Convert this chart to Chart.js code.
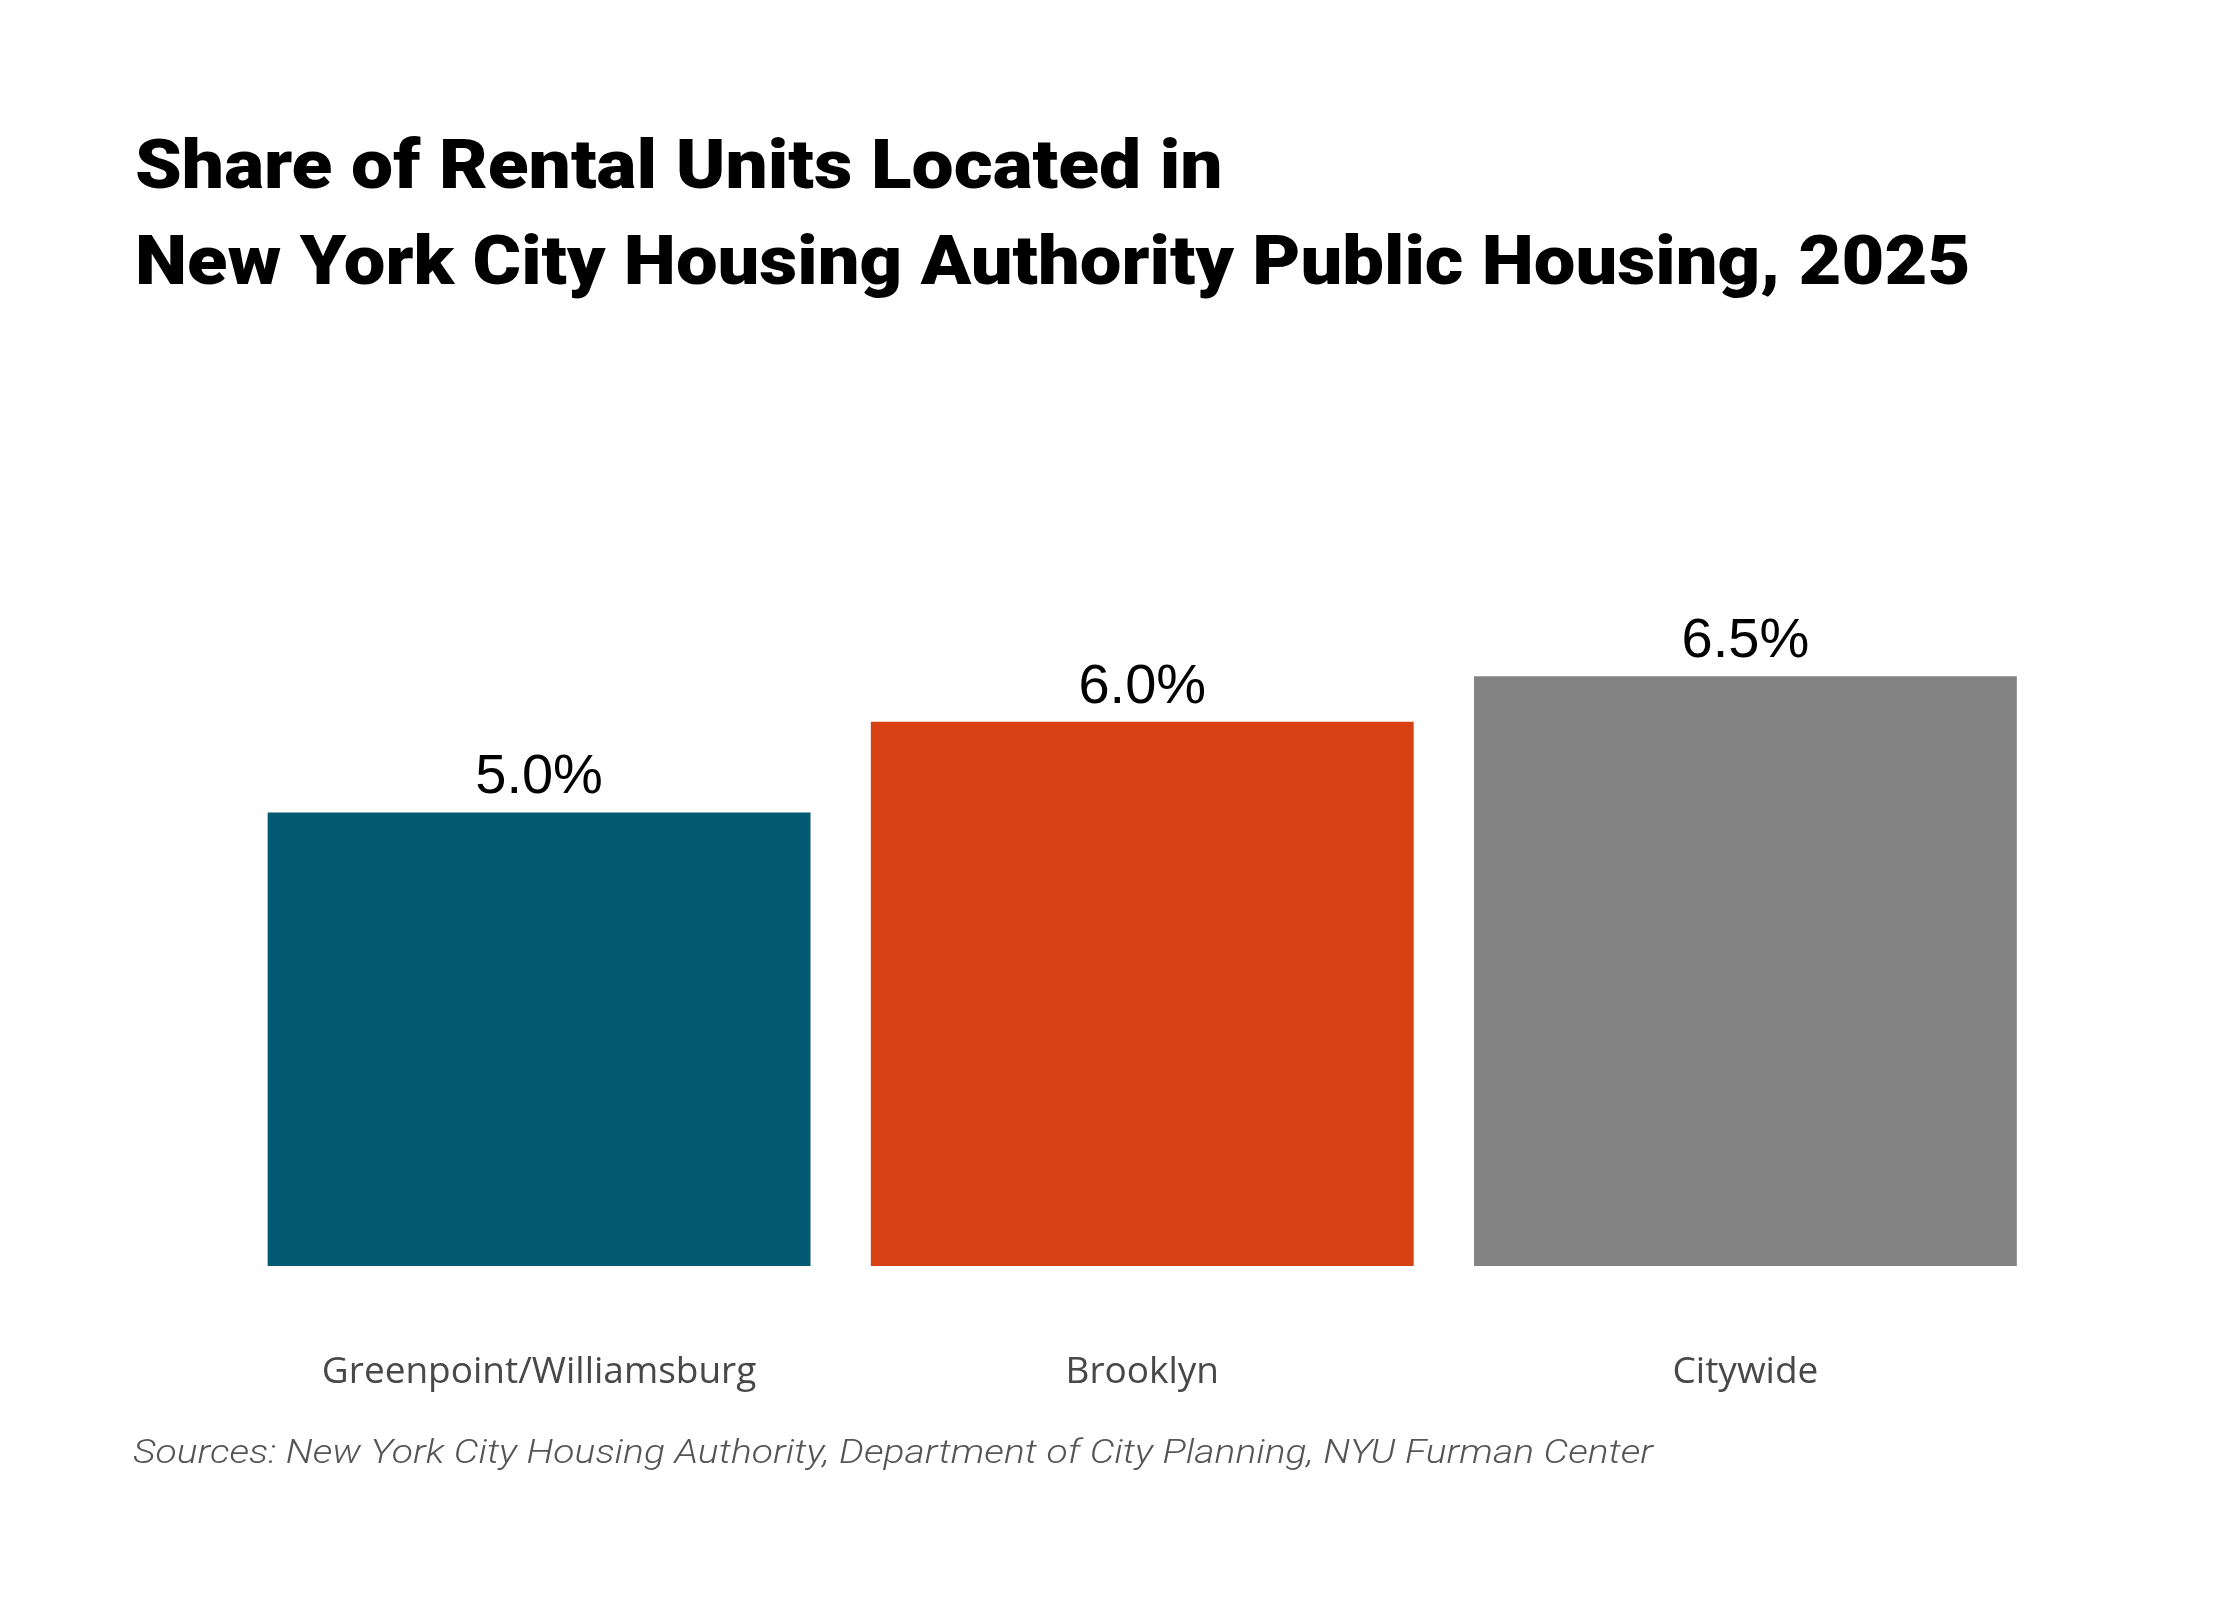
<!DOCTYPE html>
<html><head><meta charset="utf-8">
<script src="https://cdn.jsdelivr.net/npm/chart.js@4"></script>
<style>
html,body{margin:0;padding:0;background:#fff;}
#wrap{position:relative;width:2240px;height:1600px;background:#fff;overflow:hidden;}
#chart{position:absolute;left:0;top:0;}
.title{position:absolute;left:135px;top:117px;font-family:Roboto, "Liberation Sans", sans-serif;font-weight:900;font-size:68px;line-height:96px;color:#000;white-space:nowrap;}
.title span{display:inline-block;transform-origin:left center;}
.src{position:absolute;left:133px;top:1431px;font-family:Roboto, sans-serif;font-style:italic;font-weight:300;font-size:34px;line-height:40px;color:#555;white-space:nowrap;}
.src span{display:inline-block;transform-origin:left center;}
</style></head>
<body><div id="wrap">
<canvas id="chart" width="2240" height="1600"></canvas>
<div class="title"><span id="t1">Share of Rental Units Located in</span><br><span id="t2">New York City Housing Authority Public Housing, 2025</span></div>
<div class="src"><span id="s1">Sources: New York City Housing Authority, Department of City Planning, NYU Furman Center</span></div>
</div>
<script>
const categories = ["Greenpoint/Williamsburg", "Brooklyn", "Citywide"];
const shareValues = [5.0, 6.0, 6.5];
const barColors = ["#025A73", "#D84113", "#838384"];

const valueLabelPlugin = {
  id: 'valueLabels',
  afterDatasetsDraw(chart) {
    const ctx = chart.ctx;
    const meta = chart.getDatasetMeta(0);
    ctx.save();
    ctx.font = '56px "Liberation Sans", Arial, sans-serif';
    ctx.fillStyle = '#000';
    ctx.textAlign = 'center';
    ctx.textBaseline = 'alphabetic';
    meta.data.forEach((bar, i) => {
      ctx.fillText(shareValues[i].toFixed(1) + '%', bar.x, bar.y - 19);
    });
    ctx.restore();
  }
};

new Chart(document.getElementById('chart'), {
  type: 'bar',
  data: {
    labels: categories,
    datasets: [{
      data: shareValues,
      backgroundColor: barColors,
      borderWidth: 0,
      categoryPercentage: 1.0,
      barPercentage: 0.9
    }]
  },
  options: {
    responsive: false,
    devicePixelRatio: 1,
    animation: false,
    layout: { padding: { left: 237.5, right: 193, top: 631, bottom: 206 } },
    plugins: { legend: { display: false }, tooltip: { enabled: false }, title: { display: false } },
    scales: {
      y: { display: false, min: 0, max: 7 },
      x: {
        afterFit: (s) => { s.height = 128; },
        grid: { display: false, drawTicks: false },
        border: { display: false },
        ticks: {
          font: { family: '"Open Sans"', size: 37 },
          color: '#484848',
          padding: 84,
          maxRotation: 0,
          autoSkip: false
        }
      }
    }
  },
  plugins: [valueLabelPlugin]
});

function fitWidth(id, target) {
  const el = document.getElementById(id);
  const w = el.offsetWidth;
  if (w > 0) el.style.transform = 'scaleX(' + (target / w) + ')';
}
function fitAll() {
  fitWidth('t1', 1088);
  fitWidth('t2', 1835);
  fitWidth('s1', 1520);
}
fitAll();
if (document.fonts && document.fonts.ready) document.fonts.ready.then(fitAll);
</script>
</body></html>
